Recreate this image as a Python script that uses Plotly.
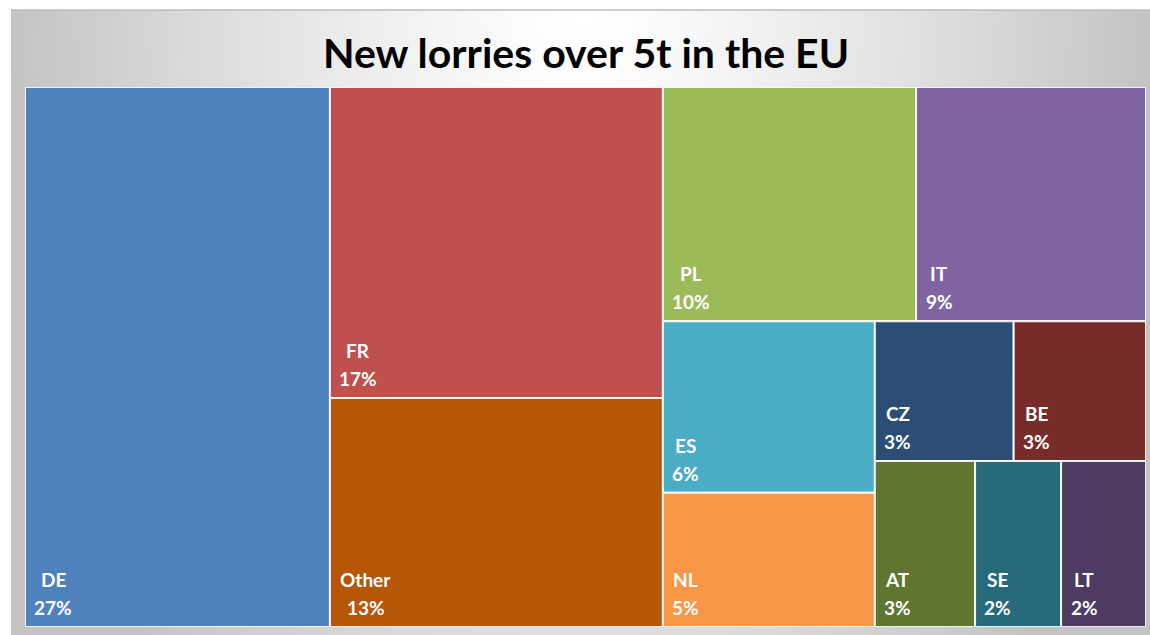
import numpy as np
import plotly.graph_objects as go

# ---------------- data ----------------
countries = ["DE", "FR", "PL", "IT", "ES", "NL", "CZ", "BE", "AT", "LT", "SE", "Other"]
shares = [27.2, 17.1, 9.8, 8.9, 6.0, 4.7, 3.2, 3.05, 2.75, 2.33, 2.36, 12.6]
colors = ["#4F81BD", "#C0504D", "#9BBB59", "#8064A2", "#4BACC6", "#F79646",
          "#2C4D75", "#772C2A", "#5F7530", "#4D3B62", "#276A7C", "#B65708"]
title_text = "New lorries over 5t in the EU"

# strip plan of the Excel treemap: (direction, number of tiles in strip)
strip_plan = [("v", 1), ("v", 2), ("h", 2), ("v", 2), ("h", 2), ("h", 3)]

# ---------------- figure geometry ----------------
FIG_W, FIG_H = 1150, 635
PLOT_L, PLOT_R, PLOT_T, PLOT_B = 25, 1146, 87, 627
BOX_L, BOX_T = 11, 10

# ---------------- treemap layout from values ----------------
order = sorted(range(len(shares)), key=lambda i: -shares[i])
total = sum(shares)
rects = {}
x0, y0, x1, y1 = 0.0, 0.0, 1.0, 1.0
remaining = total
pos = 0


def clean(v):
    return min(1.0, max(0.0, round(v, 9)))


for direction, n in strip_plan:
    idx = order[pos:pos + n]
    pos += n
    s = sum(shares[i] for i in idx)
    if direction == "v":
        w = (x1 - x0) * s / remaining
        yy = y1
        for i in idx:
            h = (y1 - y0) * shares[i] / s
            rects[i] = tuple(clean(v) for v in (x0, yy - h, x0 + w, yy))
            yy -= h
        x0 += w
    else:
        h = (y1 - y0) * s / remaining
        xx = x0
        for i in idx:
            w = (x1 - x0) * shares[i] / s
            rects[i] = tuple(clean(v) for v in (xx, y1 - h, xx + w, y1))
            xx += w
        y1 -= h
    remaining -= s

fig = go.Figure()

# ---------------- background gradient ----------------
gx = np.linspace(0, 1, 80)
gy = np.linspace(0, 1, 40)
GX, GY = np.meshgrid(gx, gy)
gz = np.clip(np.sqrt(((GX - 0.5) / 0.5) ** 2 + (0.62 * (1 - GY)) ** 2), 0, 1) ** 1.25
fig.add_trace(go.Heatmap(x=gx, y=gy, z=gz, zmin=0, zmax=1, zsmooth="best",
                         colorscale=[[0, "#FFFFFF"], [1, "#C3C3C3"]],
                         showscale=False, hoverinfo="skip", xaxis="x", yaxis="y"))

# ---------------- tiles ----------------
FS = 19
FONT = "Lato, Calibri, sans-serif"


def text_w(t, fs=FS):
    w = 0.0
    for ch in t:
        if ch == "%":
            w += 0.80
        elif ch.isdigit():
            w += 0.56
        elif ch.isupper():
            w += 0.62
        else:
            w += 0.52
    return w * fs


annotations = []
for i in order:
    rx0, ry0, rx1, ry1 = rects[i]
    fig.add_trace(go.Scatter(
        x=[rx0, rx1, rx1, rx0, rx0], y=[ry0, ry0, ry1, ry1, ry0],
        mode="lines", fill="toself", fillcolor=colors[i],
        line=dict(color="rgba(255,255,255,0.9)", width=2),
        hoverinfo="skip", showlegend=False, xaxis="x2", yaxis="y2"))
    pct = f"{round(shares[i] / total * 100):d}%"
    cx = 10 + max(text_w(countries[i]), text_w(pct)) / 2
    for txt, dy in ((countries[i], 47.5), (pct, 19.5)):
        annotations.append(dict(
            x=rx0, y=ry0, xref="x2", yref="y2", text=f"<b>{txt}</b>",
            showarrow=False, xanchor="center", yanchor="middle",
            xshift=cx, yshift=dy,
            font=dict(family=FONT, size=FS, color="white")))

annotations.append(dict(
    x=(BOX_L + 1160) / 2 / FIG_W, y=1 - 52.5 / FIG_H, xref="paper", yref="paper",
    text=f"<b>{title_text}</b>", showarrow=False, xanchor="center", yanchor="middle",
    font=dict(family=FONT, size=41, color="black")))

fig.update_layout(
    width=FIG_W, height=FIG_H,
    margin=dict(l=0, r=0, t=0, b=0),
    paper_bgcolor="white", plot_bgcolor="rgba(0,0,0,0)",
    showlegend=False,
    annotations=annotations,
    xaxis=dict(domain=[BOX_L / FIG_W, 1], range=[0, 1], visible=False, fixedrange=True),
    yaxis=dict(domain=[0, 1 - BOX_T / FIG_H], range=[0, 1], visible=False, fixedrange=True),
    xaxis2=dict(domain=[PLOT_L / FIG_W, PLOT_R / FIG_W], range=[0, 1], visible=False,
                fixedrange=True, anchor="y2"),
    yaxis2=dict(domain=[1 - PLOT_B / FIG_H, 1 - PLOT_T / FIG_H], range=[0, 1], visible=False,
                fixedrange=True, anchor="x2"),
    shapes=[dict(type="line", xref="paper", yref="paper",
                 x0=BOX_L / FIG_W, x1=1, y0=1 - BOX_T / FIG_H, y1=1 - BOX_T / FIG_H,
                 line=dict(color="#BDBDBD", width=1.5))],
)

fig.write_html("out.html", config={"displayModeBar": False},
               post_script="document.body.style.margin='0';document.body.style.overflow='hidden';")
